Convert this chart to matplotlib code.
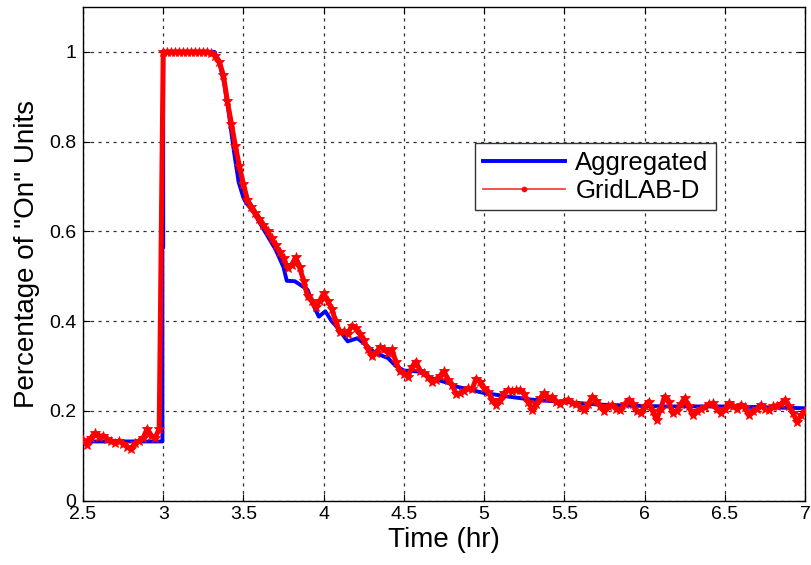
import numpy as np
import matplotlib
matplotlib.use("Agg")
import matplotlib.pyplot as plt

plt.rcParams['font.family'] = ['Liberation Sans', 'DejaVu Sans']

# Aggregated model
agg_t = [2.5, 2.995, 2.995, 3.0, 3.0, 3.32, 3.35, 3.38, 3.41, 3.44, 3.47, 3.5,
         3.52, 3.56, 3.6, 3.65, 3.7, 3.75, 3.77, 3.82, 3.85, 3.9, 3.93, 3.97,
         4.01, 4.05, 4.08, 4.15, 4.21, 4.27, 4.32, 4.4, 4.45, 4.5, 4.59, 4.68,
         4.78, 4.83, 5.0, 5.15, 5.3, 5.5, 5.72, 6.0, 6.14, 6.55, 7.0]
agg_v = [0.132, 0.132, 0.565, 0.565, 1.0, 1.0, 0.975, 0.93, 0.86, 0.78, 0.71, 0.675,
         0.662, 0.645, 0.62, 0.59, 0.56, 0.52, 0.49, 0.489, 0.482, 0.47, 0.44, 0.41,
         0.422, 0.40, 0.388, 0.355, 0.362, 0.345, 0.329, 0.318, 0.30, 0.29, 0.288, 0.272,
         0.262, 0.254, 0.24, 0.232, 0.225, 0.22, 0.214, 0.211, 0.21, 0.21, 0.206]

# GridLAB-D, one sample every 0.025 hr from 2.5 hr (10 per row = 0.25 hr)
gld_step = 0.025
gld_v = [
    0.135, 0.125, 0.140, 0.150, 0.142, 0.145, 0.137, 0.132, 0.128, 0.133,  # 2.50
    0.127, 0.120, 0.115, 0.128, 0.133, 0.140, 0.160, 0.145, 0.140, 0.160,  # 2.75
    1.0, 1.0, 1.0, 1.0, 1.0, 1.0, 1.0, 1.0, 1.0, 1.0,                      # 3.00
    1.0, 1.0, 0.998, 0.99, 0.978, 0.948, 0.89, 0.84, 0.79, 0.745,          # 3.25
    0.705, 0.67, 0.655, 0.64, 0.628, 0.615, 0.60, 0.585, 0.57, 0.555,      # 3.50
    0.54, 0.518, 0.525, 0.542, 0.52, 0.49, 0.455, 0.445, 0.432, 0.445,     # 3.75
    0.462, 0.445, 0.428, 0.40, 0.375, 0.378, 0.372, 0.39, 0.385, 0.372,    # 4.00
    0.358, 0.338, 0.322, 0.33, 0.342, 0.338, 0.33, 0.337, 0.31, 0.288,     # 4.25
    0.283, 0.276, 0.298, 0.31, 0.29, 0.284, 0.275, 0.265, 0.27, 0.278,     # 4.50
    0.288, 0.27, 0.258, 0.238, 0.24, 0.245, 0.25, 0.248, 0.272, 0.265,     # 4.75
    0.25, 0.243, 0.225, 0.214, 0.225, 0.24, 0.247, 0.244, 0.246, 0.247,    # 5.00
    0.238, 0.22, 0.203, 0.215, 0.228, 0.24, 0.228, 0.232, 0.221, 0.215,   # 5.25
    0.222, 0.225, 0.218, 0.215, 0.208, 0.202, 0.215, 0.232, 0.222, 0.21,  # 5.50
    0.199, 0.21, 0.214, 0.205, 0.203, 0.215, 0.225, 0.215, 0.2, 0.195,    # 5.75
    0.21, 0.221, 0.2, 0.18, 0.205, 0.232, 0.22, 0.195, 0.2, 0.215,        # 6.00
    0.229, 0.21, 0.19, 0.2, 0.205, 0.208, 0.215, 0.217, 0.205, 0.195,     # 6.25
    0.205, 0.217, 0.21, 0.205, 0.214, 0.208, 0.19, 0.2, 0.205, 0.214,     # 6.50
    0.205, 0.202, 0.21, 0.212, 0.215, 0.225, 0.21, 0.195, 0.176, 0.19,   # 6.75
    0.199,                                                                 # 7.00
]
gld_t = 2.5 + gld_step * np.arange(len(gld_v))

xticks = [2.5, 3, 3.5, 4, 4.5, 5, 5.5, 6, 6.5, 7]
xticklabels = ['2.5', '3', '3.5', '4', '4.5', '5', '5.5', '6', '6.5', '7']
yticks = [0, 0.2, 0.4, 0.6, 0.8, 1]
yticklabels = ['0', '0.2', '0.4', '0.6', '0.8', '1']

fig = plt.figure(figsize=(8.12, 5.65), dpi=100)
ax = fig.add_axes([0.1022, 0.1138, 0.8892, 0.8738])

ax.plot(agg_t, agg_v, color='#0000ff', lw=2.8, label='Aggregated', zorder=3)
# dense marker band of the simulated curve
ax.plot(gld_t, gld_v, color='#ff0000', lw=3.6, marker='*', ms=7, mew=0.6,
        label='GridLAB-D', zorder=4, solid_joinstyle='round')

ax.set_xlim(2.5, 7)
ax.set_ylim(0, 1.1)
ax.set_xticks(xticks)
ax.set_xticklabels(xticklabels)
ax.set_yticks(yticks)
ax.set_yticklabels(yticklabels)
ax.tick_params(direction='in', length=5, width=0.8, top=True, right=True,
               labelsize=14, colors='black')
ax.tick_params(axis='x', pad=4)
ax.tick_params(axis='y', pad=5)

ax.grid(True, color='#333333', linestyle=(0, (2.5, 3.5)), lw=0.9)
for s in ax.spines.values():
    s.set_linewidth(1.0)
    s.set_color('black')

ax.set_xlabel('Time (hr)', fontsize=20, labelpad=3)
ax.set_ylabel('Percentage of "On" Units', fontsize=20, labelpad=6)

leg = ax.legend(loc='upper left', bbox_to_anchor=(0.543, 0.7245),
                borderaxespad=0, fontsize=18.5, fancybox=False,
                framealpha=1, edgecolor='#333333', handlelength=3.2,
                handletextpad=0.4, borderpad=0.3, labelspacing=0.15)
leg.get_frame().set_linewidth(1.0)
red_handle = leg.get_lines()[1]
red_handle.set_linewidth(1.3)
red_handle.set_color('#ff4040')
red_handle.set_marker('.')
red_handle.set_markersize(7)
red_handle.set_markerfacecolor('#ff0000')
red_handle.set_markeredgecolor('#ff0000')

plt.savefig('out.png', dpi=100)
